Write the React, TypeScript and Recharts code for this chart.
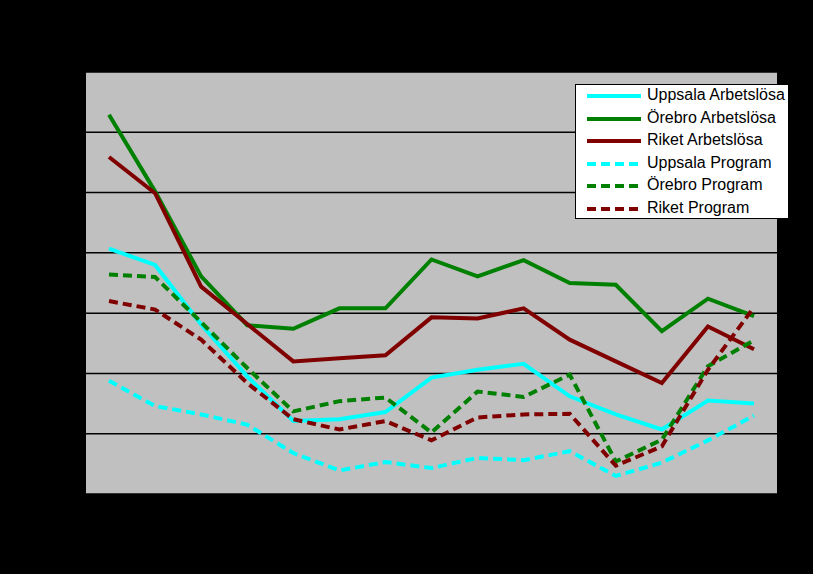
import { LineChart, Line, XAxis, YAxis, CartesianGrid } from 'recharts'

// 15 periods, axis labels are not visible in the original (black on black)
const periods = ['1', '2', '3', '4', '5', '6', '7', '8', '9', '10', '11', '12', '13', '14', '15']

const uppsalaArb = [4.07, 3.8, 2.81, 1.95, 1.21, 1.24, 1.36, 1.93, 2.06, 2.16, 1.62, 1.32, 1.07, 1.55, 1.5]
const orebroArb = [6.29, 5.02, 3.61, 2.8, 2.74, 3.08, 3.08, 3.89, 3.61, 3.88, 3.5, 3.47, 2.7, 3.24, 2.95]
const riketArb = [5.59, 4.99, 3.44, 2.82, 2.2, 2.25, 2.3, 2.93, 2.91, 3.08, 2.56, 2.2, 1.84, 2.78, 2.4]
const uppsalaProg = [1.88, 1.46, 1.32, 1.15, 0.68, 0.39, 0.53, 0.43, 0.6, 0.56, 0.71, 0.3, 0.52, 0.89, 1.3]
const orebroProg = [3.64, 3.6, 2.85, 2.09, 1.37, 1.54, 1.6, 1.02, 1.7, 1.61, 1.98, 0.54, 0.9, 2.12, 2.55]
const riketProg = [3.2, 3.06, 2.56, 1.84, 1.24, 1.07, 1.21, 0.89, 1.27, 1.32, 1.33, 0.47, 0.79, 2.06, 3.1]

const yTicks = [0, 1, 2, 3, 4, 5, 6, 7]

const data = periods.map((p, i) => ({
  period: p,
  uppsalaArb: uppsalaArb[i],
  orebroArb: orebroArb[i],
  riketArb: riketArb[i],
  uppsalaProg: uppsalaProg[i],
  orebroProg: orebroProg[i],
  riketProg: riketProg[i],
}))

const series = [
  { key: 'uppsalaArb', name: 'Uppsala Arbetslösa', color: '#00FFFF', dash: undefined },
  { key: 'orebroArb', name: 'Örebro Arbetslösa', color: '#008000', dash: undefined },
  { key: 'riketArb', name: 'Riket Arbetslösa', color: '#800000', dash: undefined },
  { key: 'uppsalaProg', name: 'Uppsala Program', color: '#00FFFF', dash: '9 5' },
  { key: 'orebroProg', name: 'Örebro Program', color: '#008000', dash: '9 5' },
  { key: 'riketProg', name: 'Riket Program', color: '#800000', dash: '9 5' },
]

function LegendBox() {
  return (
    <div style={{ position: 'absolute', left: 575, top: 84, background: '#fff', border: '1px solid #000', padding: '0 0 0 9px', boxSizing: 'border-box', width: 214, height: 135 }}>
      {series.map((s) => (
        <div key={s.key} style={{ display: 'flex', alignItems: 'center', height: 22.5 }}>
          <svg width={58} height={10} style={{ marginRight: 4 }}>
            <line x1={2} y1={5} x2={56} y2={5} stroke={s.color} strokeWidth={4} strokeDasharray={s.dash} />
          </svg>
          <span style={{ fontFamily: 'Arial, "Liberation Sans", sans-serif', fontSize: 16, lineHeight: '16px', color: '#000', marginTop: -2 }}>{s.name}</span>
        </div>
      ))}
    </div>
  )
}

export default function App() {
  return (
    <div style={{ position: 'absolute', left: 0, top: 0, width: 813, height: 574, background: '#000' }}>
      <LineChart width={813} height={574} data={data} margin={{ top: 72, right: 36, left: 86, bottom: 80 }}>
        <CartesianGrid fill="#C0C0C0" stroke="#000" strokeWidth={1.5} vertical={false} yAxisId="left" xAxisId="bottom" />
        <XAxis
          xAxisId="bottom"
          dataKey="period"
          height={0}
          padding={{ left: 23, right: 23 }}
          tick={false}
          tickLine={false}
          axisLine={{ stroke: '#808080', strokeWidth: 2 }}
        />
        <XAxis xAxisId="top" orientation="top" dataKey="period" height={0} tick={false} tickLine={false} axisLine={{ stroke: '#808080', strokeWidth: 2 }} />
        <YAxis yAxisId="left" width={0} domain={[0, 7]} ticks={yTicks} tick={{ fill: '#000', fontSize: 12 }} tickLine={false} axisLine={{ stroke: '#808080', strokeWidth: 2 }} />
        <YAxis yAxisId="right" orientation="right" width={0} domain={[0, 7]} tick={false} tickLine={false} axisLine={{ stroke: '#808080', strokeWidth: 2 }} />
        {series.map((s) => (
          <Line
            key={s.key}
            xAxisId="bottom"
            yAxisId="left"
            type="linear"
            dataKey={s.key}
            name={s.name}
            stroke={s.color}
            strokeWidth={4}
            strokeDasharray={s.dash}
            dot={false}
            isAnimationActive={false}
          />
        ))}
      </LineChart>
      <LegendBox />
    </div>
  )
}
